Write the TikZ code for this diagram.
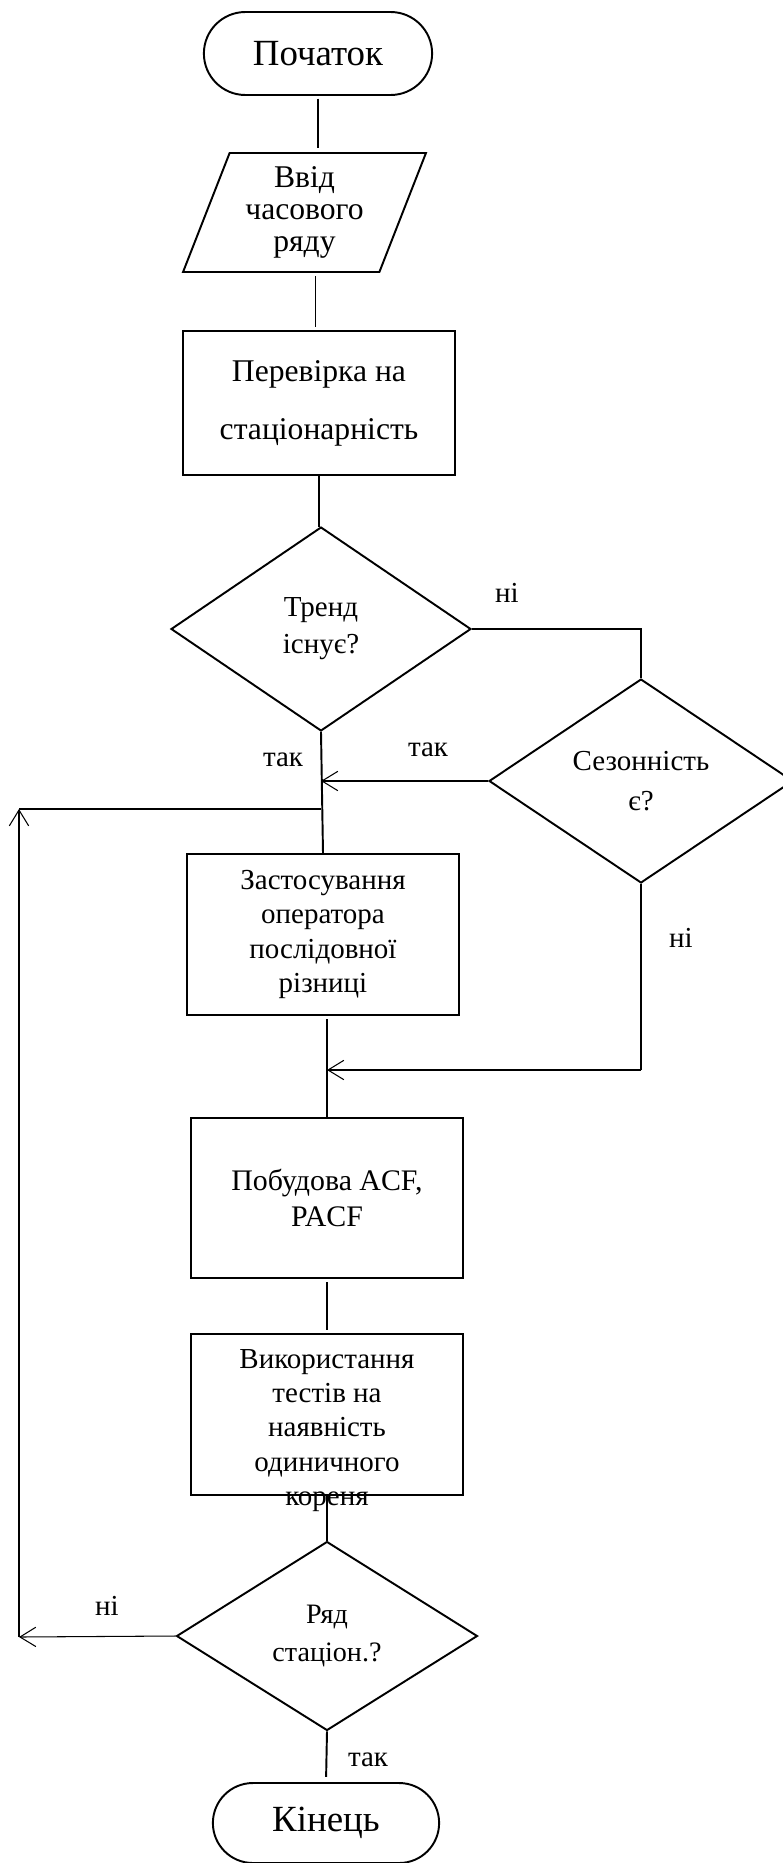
\documentclass[tikz,border=0pt]{standalone}
\usepackage{fontspec}
\setmainfont{Liberation Serif}
\usepackage{tikz}
\usetikzlibrary{arrows.meta, positioning, calc, shapes.geometric, shapes.misc}
\tikzset{
  outlinebox/.style = {draw=black, line width=1.1pt, fill=white},
  flowline/.style   = {draw=black, line width=0.6pt},
  boldline/.style   = {draw=black, line width=1.1pt},
}

\begin{document}
\begin{tikzpicture}[
            >={Straight Barb[length=9pt, width=11pt]},
            every node/.style={font=\fontsize{16.5}{19.5}\selectfont},
            term/.style    ={outlinebox, rounded rectangle, minimum width=4.8cm,
                    minimum height=1.66cm, font=\fontsize{21}{25}\selectfont},
            io/.style      ={outlinebox, trapezium, trapezium left angle=68,
                    trapezium right angle=112, trapezium stretches=true,
                    align=center, inner sep=0pt, minimum width=4.86cm,
                    minimum height=2.38cm, font=\fontsize{18}{18}\selectfont},
            proc/.style    ={outlinebox, rectangle, align=center, inner sep=2pt,
                    minimum width=5.44cm, minimum height=3.2cm},
            decision/.style={outlinebox, diamond, align=center, inner sep=0pt},
            conn/.style    ={flowline},
            arr/.style     ={->, flowline},
            lbl/.style     ={inner sep=1pt},
            x=0.02cm, y=-0.02cm
        ]
        \useasboundingbox (0,0) rectangle (782,1863);

        %% --- Start, input, stationarity check -----------------------------
        \node[term] (start) at (318,53.5) {Початок};
        \node[io] (inp) at (304.5,212.5) {Ввід\\ часового\\ ряду};
        \node[proc, minimum height=2.88cm,
                font=\fontsize{18}{33}\selectfont] (check) at (319,403)
        {Перевірка на\\ стаціонарність};

        \draw[conn, shorten <=1.5pt, shorten >=2.5pt]
        (start.south) -- (start.south |- inp.north);
        \draw[conn, shorten <=2pt, shorten >=2pt]
        ([xshift=-0.07cm]check.north |- inp.south) -- ([xshift=-0.07cm]check.north);
        \draw[conn] (check.south) -- ++(0,51);

        %% --- Trend / seasonality decisions --------------------------------
        \node[decision, minimum width=6cm, minimum height=4.08cm,
                font=\fontsize{16.5}{21}\selectfont] (trend) at (321,629)
        {Тренд\\ існує?};
        \node[decision, minimum width=6.08cm, minimum height=4.08cm,
                font=\fontsize{16.5}{23}\selectfont] (sez) at (641,781)
        {Сезонність\\ є?};

        \draw[conn, line width=0.8pt] (trend.east) -| (sez.north);
        \coordinate (jn1) at (trend.south |- sez.west);
        \draw[arr] (sez.west) -- (jn1);

        \node[lbl] (no1)  at (507,593) {ні};
        \node[lbl] (yes1) at (283,760) {так};
        \node[lbl] (yes2) at (428,750) {так};

        %% --- Differencing and ACF -----------------------------------------
        \node[proc, minimum height=3.22cm] (diff) at (323,934.5)
        {Застосування\\ оператора\\ послідовної\\ різниці};
        \node[proc, font=\fontsize{17}{20}\selectfont] (acf) at (327,1198)
        {Побудова ACF,\\ PACF};

        \draw[boldline] (trend.south) -- (diff.north);
        \draw[boldline, shorten <=2pt]
        (diff.south -| acf.north) -- (acf.north);

        % no seasonality: down the right side, back into the main line
        \coordinate (sk) at (641,1070);
        \draw[conn] (sez.south) -- (sk);
        \draw[arr] (sk) -- (sk -| acf.north);
        \node[lbl] (no2) at (681,938) {ні};

        %% --- Unit root tests (text runs past the box) ---------------------
        \node[proc, minimum height=3.22cm] (test) at (327,1414.5) {};
        \node[align=center] (testtxt) at (327,1430.5)
        {Використання\\ тестів на\\ наявність\\ одиничного\\ кореня};
        \draw[boldline, shorten <=2pt, shorten >=2pt] (acf.south) -- (test.north);

        %% --- Final decision, loop back, end -------------------------------
        \node[decision, minimum width=6.02cm, minimum height=3.78cm,
                font=\fontsize{16}{22}\selectfont] (ryad) at (327,1636)
        {Ряд\\ стаціон.?};
        \node[term, minimum width=4.76cm, minimum height=1.6cm] (stop) at (326,1823)
        {Кінець};

        \draw[boldline] (test.south) -- (ryad.north);
        \draw[boldline, shorten >=3pt] (ryad.south) -- (stop.north);
        \node[lbl] (yes3) at (368,1760) {так};

        \coordinate (lb) at (19,1637);
        \coordinate (lt) at (19,809);
        \draw[arr] (ryad.west) -- (lb);
        \draw[arr] (lb) -- (lt);
        \draw[boldline] (lt) -- (lt -| trend.south);
        \node[lbl] (no3) at (107,1606) {ні};

    \end{tikzpicture}
\end{document}
